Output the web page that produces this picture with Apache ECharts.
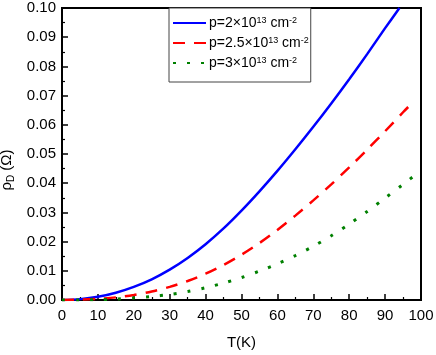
<!DOCTYPE html>
<html>
<head>
<meta charset="utf-8">
<script src="https://cdn.jsdelivr.net/npm/echarts@6/dist/echarts.min.js"></script>
<style>
  html, body { margin: 0; padding: 0; background: #fff; }
  #chart { width: 436px; height: 355px; }
</style>
</head>
<body>
<div id="chart"></div>
<script>
// 温度 (K)
const tempsP2 = [0, 5, 10, 15, 20, 25, 30, 35, 40, 45, 50, 55, 60, 65, 70, 75, 80, 85, 90, 94]
const tempsP25 = [0, 5, 10, 15, 20, 25, 30, 35, 40, 45, 50, 55, 60, 65, 70, 75, 80, 85, 90, 95, 97]
const tempsP3 = [0, 5, 10, 15, 20, 25, 30, 35, 40, 45, 50, 55, 60, 65, 70, 75, 80, 85, 90, 95, 100]

// rho_D (Ohm)
const rhoP2 = [0, 0.0003, 0.0011, 0.0025, 0.0045, 0.0071, 0.0104, 0.0144, 0.0191, 0.0245, 0.0306, 0.0372, 0.0442, 0.0516, 0.0593, 0.0673, 0.0756, 0.0842, 0.0931, 0.1000]
const rhoP25 = [0, 0.0001, 0.0004, 0.0009, 0.0017, 0.0029, 0.0045, 0.0065, 0.0090, 0.0120, 0.0155, 0.0195, 0.0240, 0.0289, 0.0341, 0.0396, 0.0454, 0.0515, 0.0578, 0.0643, 0.0668]
const rhoP3 = [0, 0.00002, 0.0001, 0.0003, 0.0007, 0.0012, 0.0019, 0.0029, 0.0042, 0.0058, 0.0077, 0.0099, 0.0124, 0.0152, 0.0184, 0.0220, 0.0260, 0.0303, 0.0349, 0.0396, 0.0443]

const seriesNames = ['p2', 'p25', 'p3']
const legendLabels = {
  p2: 'p=2×10{sup|13} cm{sup|-2}',
  p25: 'p=2.5×10{sup|13} cm{sup|-2}',
  p3: 'p=3×10{sup|13} cm{sup|-2}'
}

const xTicks = [0, 100, 10]
const yTicks = [0, 0.1, 0.01]

const font = 'Liberation Sans'
const zip = (xs, ys) => xs.map((x, i) => [x, ys[i]])

const chart = echarts.init(document.getElementById('chart'))

const axisCommon = {
  axisLine: { show: true, lineStyle: { color: '#000', width: 2 } },
  axisTick: { show: true, inside: true, length: 6, lineStyle: { color: '#000', width: 1.5 } },
  minorTick: { show: true, splitNumber: 2, length: 3, lineStyle: { color: '#000', width: 1.2 } },
  splitLine: { show: false },
  axisLabel: { color: '#000', fontFamily: font, fontSize: 15 }
}

chart.setOption({
  animation: false,
  backgroundColor: '#fff',
  grid: {
    left: 62, right: 15, top: 8, bottom: 55,
    outerBoundsMode: 'none',
    containLabel: false,
    show: true, borderColor: '#000', borderWidth: 2
  },
  legend: {
    data: seriesNames,
    orient: 'vertical',
    left: 169, top: 8,
    padding: [8, 2, 11, 3],
    itemGap: 5,
    itemWidth: 33, itemHeight: 14,
    backgroundColor: '#fff',
    borderColor: '#444', borderWidth: 1,
    itemStyle: { opacity: 0 },
    formatter: (name) => legendLabels[name],
    textStyle: {
      color: '#000', fontFamily: font, fontSize: 14, lineHeight: 14, padding: [0, 0, 0, -2],
      rich: {
        sup: { fontSize: 9, fontFamily: font, color: '#000', lineHeight: 14, verticalAlign: 'top', padding: [0, 0, 6, 0] }
      }
    }
  },
  xAxis: {
    type: 'value',
    min: xTicks[0], max: xTicks[1], interval: xTicks[2],
    name: 'T(K)',
    nameLocation: 'middle',
    nameGap: 35,
    nameTextStyle: { color: '#000', fontFamily: font, fontSize: 15 },
    ...axisCommon,
    axisLabel: { ...axisCommon.axisLabel, margin: 8 }
  },
  yAxis: {
    type: 'value',
    min: yTicks[0], max: yTicks[1], interval: yTicks[2],
    name: '{n|ρ}{sub|D}{n| (Ω)}',
    nameLocation: 'middle',
    nameGap: 43,
    nameTextStyle: {
      color: '#000', fontFamily: font, fontSize: 15,
      padding: [0, 32, 0, 0],
      rich: {
        n: { fontSize: 15, fontFamily: font, color: '#000' },
        sub: { fontSize: 10, fontFamily: font, color: '#000', verticalAlign: 'bottom', padding: [8, 0, 0, 0] }
      }
    },
    ...axisCommon,
    axisLabel: { ...axisCommon.axisLabel, margin: 6, formatter: (v) => v.toFixed(2) }
  },
  series: [
    {
      name: 'p2', type: 'line', data: zip(tempsP2, rhoP2),
      smooth: 0.3, symbol: 'none', color: '#0000ff',
      lineStyle: { color: '#0000ff', width: 2.5 }
    },
    {
      name: 'p25', type: 'line', data: zip(tempsP25, rhoP25),
      smooth: 0.3, symbol: 'none', color: '#ff0000',
      lineStyle: { color: '#ff0000', width: 2.5, type: [12, 9] }
    },
    {
      name: 'p3', type: 'line', data: zip(tempsP3, rhoP3),
      smooth: 0.3, symbol: 'none', color: '#008000',
      lineStyle: { color: '#008000', width: 3, type: [3, 11] }
    }
  ]
})
</script>
</body>
</html>
